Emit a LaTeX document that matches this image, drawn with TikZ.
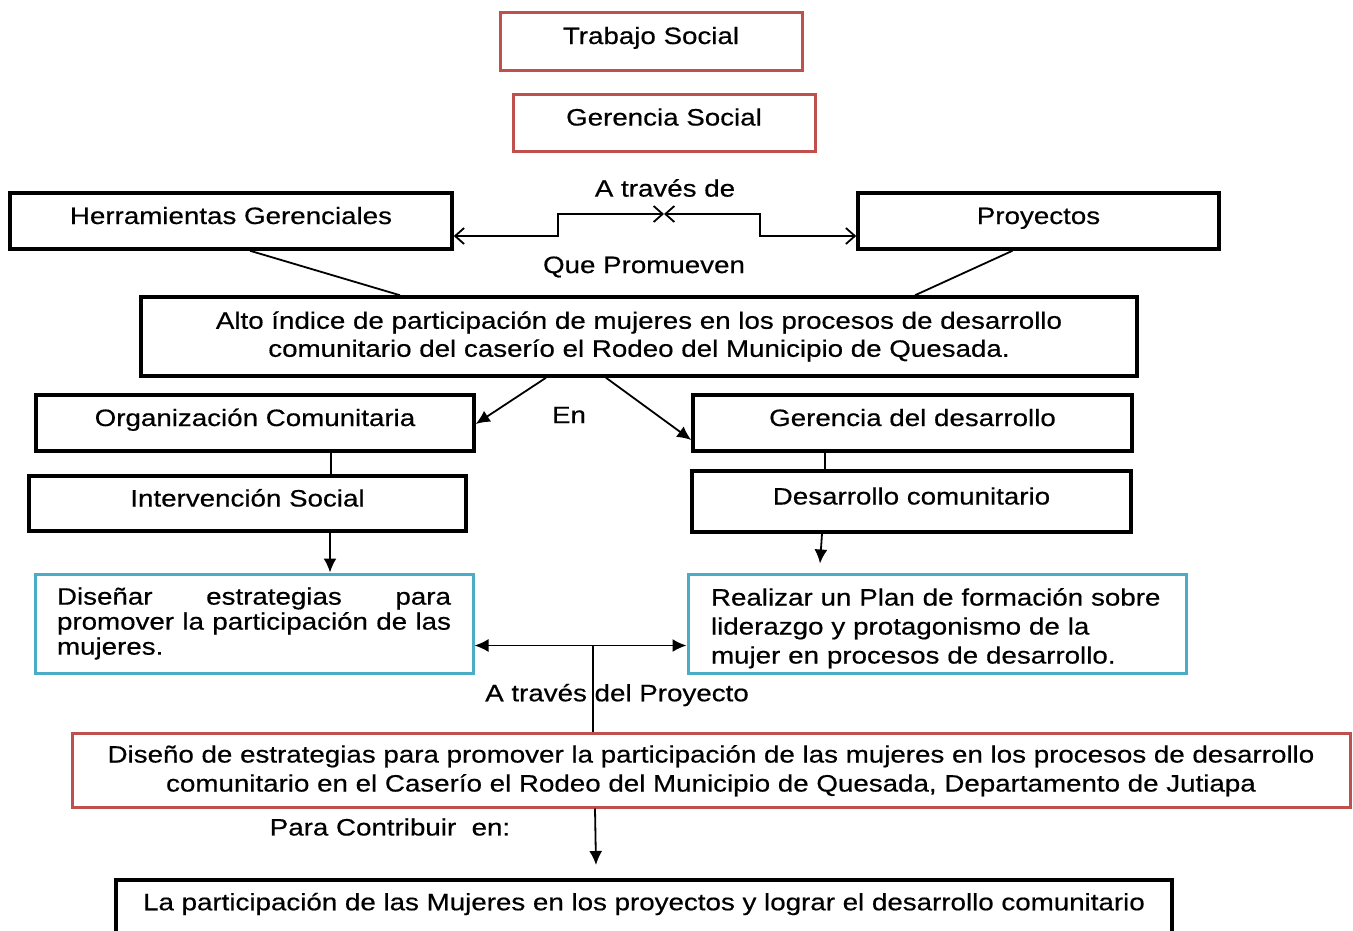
\documentclass[tikz,border=0pt]{standalone}
\usepackage{fontspec}
\setmainfont{Liberation Sans}[FakeStretch=1.17,FakeBold=0.5]
\usetikzlibrary{arrows.meta,positioning}
\definecolor{rojo}{HTML}{C0504D}
\definecolor{celeste}{HTML}{4BACC6}

\begin{document}
\begin{tikzpicture}[x=1pt,y=-1pt,
    caja/.style={draw,line width=3.5pt,text height=17pt,text depth=11pt,font=\fontsize{23.7}{28}\selectfont},
    cajaroja/.style={caja,draw=rojo,line width=3pt},
    cajaazul/.style={caja,draw=celeste,line width=3pt,text height=,text depth=},
    etiqueta/.style={font=\fontsize{23.7}{28}\selectfont,inner sep=0pt},
    linea/.style={line width=1.8pt},
    punta/.style={-{Latex[length=14pt,width=13pt]}},
    abierta/.style={{Straight Barb[length=9pt,width=16pt]}-{Straight Barb[length=9pt,width=16pt]}}]

        \useasboundingbox (0,0) rectangle (1353,930);
        \clip (0,0) rectangle (1353,930);

        \node[cajaroja,minimum width=302pt,minimum height=58pt] (trabajo) at (651,41) {Trabajo Social};
        \node[cajaroja,minimum width=302pt,minimum height=57pt] (gerencia) at (664,122.5) {Gerencia Social};

        \node[caja,minimum width=442pt,minimum height=56pt] (herr) at (231,221) {Herramientas Gerenciales};
        \node[caja,minimum width=361pt,minimum height=56pt] (proy) at (1038.5,221) {Proyectos};
        \node[etiqueta] (atraves) at (665,188) {A través de};
        \node[etiqueta] (promueven) at (644,267) {Que Promueven};
        \coordinate (meet) at (664,214);
        \coordinate (lstep) at (558,236);
        \coordinate (rstep) at (760,236);

        \node[caja,minimum width=996pt,minimum height=79pt,align=center,text height=,text depth=] (alto) at (639,336.5)
            {Alto índice de participación de mujeres en los procesos de desarrollo\\comunitario del caserío el Rodeo del Municipio de Quesada.};

        \node[caja,minimum width=438pt,minimum height=56pt] (org) at (255,423) {Organización Comunitaria};
        \node[caja,minimum width=439pt,minimum height=56pt] (gdes) at (912.5,423) {Gerencia del desarrollo};
        \node[etiqueta] (en) at (569,415) {En};
        \node[caja,minimum width=437pt,minimum height=55pt] (interv) at (247.5,503.5) {Intervención Social};
        \node[caja,minimum width=439pt,minimum height=61pt] (dcom) at (911.5,501.5) {Desarrollo comunitario};

        \node[cajaazul,minimum width=438pt,minimum height=99pt,text width=394pt,align=justify,font=\fontsize{23.7}{25}\selectfont] (disenar) at (254,623.5)
            {Diseñar estrategias para\linebreak promover la participación de las mujeres.};
        \node[cajaazul,minimum width=498pt,minimum height=99pt,text width=452pt,align=left,font=\fontsize{23.7}{29}\selectfont] (realizar) at (937,623.5)
            {\rule{0pt}{27pt}Realizar un Plan de formación sobre\\liderazgo y protagonismo de la\\mujer en procesos de desarrollo.};
        \node[etiqueta] (proyecto) at (617,695) {A través del Proyecto};

        \node[cajaroja,minimum width=1278pt,minimum height=74pt,align=center,text height=,text depth=,font=\fontsize{23.7}{29}\selectfont] (diseno) at (711,770)
            {\rule{0pt}{19pt}Diseño de estrategias para promover la participación de las mujeres en los procesos de desarrollo\\comunitario en el Caserío el Rodeo del Municipio de Quesada, Departamento de Jutiapa};
        \node[etiqueta] (contribuir) at (390,827) {Para Contribuir\ \ en:};
        \node[caja,anchor=north,minimum width=1056pt,minimum height=82pt,text height=19pt,text depth=40pt] (partic) at (644,878)
            {La participación de las Mujeres en los proyectos y lograr el desarrollo comunitario};

        \draw[linea,abierta] (herr.east |- lstep) -- (lstep) |- (meet);
        \draw[linea,abierta] (proy.west |- rstep) -- (rstep) |- (meet);
        \draw[linea] (herr.south) ++(19,0) -- ([xshift=-239pt]alto.north);
        \draw[linea] ([xshift=-26pt]proy.south) -- ([xshift=276pt]alto.north);

        \draw[linea,punta] ([xshift=-93pt]alto.south) -- ([yshift=-1pt]org.east);
        \draw[linea,punta] ([xshift=-33pt]alto.south) -- ([yshift=-17pt]gdes.west);
        \draw[linea] (org.south -| 331,0) -- (interv.north -| 331,0);
        \draw[linea] (gdes.south -| 825,0) -- (dcom.north -| 825,0);
        \draw[linea,punta] (interv.south -| 330,0) -- (disenar.north -| 330,0);
        \draw[linea,punta] (dcom.south -| 822,0) -- ([yshift=9pt]realizar.north -| 820,0);

        \draw[linea,{Latex[length=14pt,width=13pt]}-{Latex[length=14pt,width=13pt]}] ([yshift=-22pt]disenar.east) -- ([yshift=-22pt]realizar.west) coordinate[pos=0.56] (cruce);
        \draw[linea] (cruce) -- (cruce |- diseno.north);
        \draw[linea,punta] (diseno.south -| 595,0) -- ([yshift=13pt]partic.north -| 596,0);

    \end{tikzpicture}
\end{document}
